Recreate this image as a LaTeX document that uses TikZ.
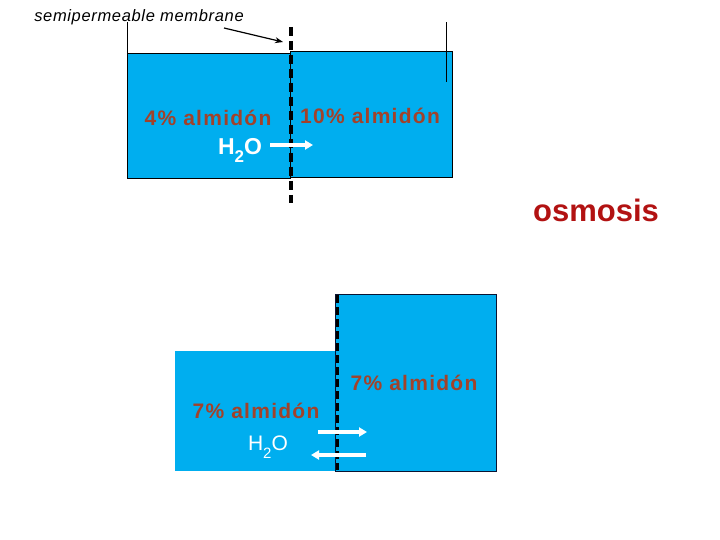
\documentclass[tikz,border=0pt]{standalone}
\usepackage{fontspec}
\setmainfont{Liberation Sans}
\usepackage{tikz}
\usetikzlibrary{positioning,arrows.meta}

\definecolor{water}{RGB}{0,174,239}
\definecolor{starch}{RGB}{162,66,42}
\definecolor{osmored}{RGB}{178,18,18}
\definecolor{tankline}{RGB}{10,20,50}

\newcommand{\waterlabel}[1]{H\raisebox{-0.35em}{\fontsize{#1}{#1}\selectfont 2}O}

\begin{document}
\begin{tikzpicture}[x=1pt,y=-1pt,
  tank/.style={fill=water, inner sep=0pt, anchor=north west},
  starchtext/.style={text=starch, font=\bfseries\fontsize{21}{24}\selectfont\addfontfeature{LetterSpace=6}},
  membrane/.style={line width=4pt, dash pattern=on 9pt off 5pt},
  flow/.style={white, line width=3.5pt, -{Triangle[length=8pt,width=9pt]}}
]
\useasboundingbox (0,0) rectangle (720,540);

% before
\node[tank, draw=black, line width=1pt, minimum width=163pt, minimum height=125pt] (lefttop) at (127,53) {};
\node[tank, draw=black, line width=1pt, minimum width=162pt, minimum height=126pt] (righttop) at (290,51) {};
\draw[line width=1pt] (lefttop.north west) -- ++(0,-31);
\draw[line width=1pt] (righttop.north east) ++(-7,31) -- ++(0,-60);
\draw[membrane] (291,27) -- (291,203);

\node[font=\itshape\fontsize{16.5}{19}\selectfont\addfontfeature{LetterSpace=4}] (memlabel) at (139,17) {semipermeable membrane};
\coordinate (memtip) at (283,42);
\draw[-{Stealth[length=8pt,width=6pt]}, line width=1.2pt] (224,28) -- (memtip);

\node[starchtext] (conc4) at (208,118) {4\% almidón};
\node[starchtext] (conc10) at (370,116) {10\% almidón};
\node[text=white, font=\bfseries\fontsize{23}{26}\selectfont] (waterone) at (240,150) {\waterlabel{17}};
\coordinate (flowonestart) at (270,145);
\coordinate (flowoneend) at (313,145);
\draw[flow] (flowonestart) -- (flowoneend);

\node[text=osmored, font=\bfseries\fontsize{31}{34}\selectfont] (osmo) at (596,210) {osmosis};

% after
\node[tank, minimum width=160pt, minimum height=120pt] (leftbot) at (175,351) {};
\node[tank, draw=tankline, line width=1.2pt, minimum width=161pt, minimum height=177pt] (rightbot) at (335,294) {};
\draw[membrane, line width=3pt, dash pattern=on 8pt off 4pt] (337,295) -- (337,470);

\node[starchtext] (conc7a) at (256,411) {7\% almidón};
\node[starchtext] (conc7b) at (414,383) {7\% almidón};
\node[text=white, font=\fontsize{21}{24}\selectfont\addfontfeature{LetterSpace=4}] (watertwo) at (268,447) {\waterlabel{15}};
\coordinate (flowtwoa) at (318,432);
\coordinate (flowtwob) at (367,432);
\coordinate (flowthreea) at (366,455);
\coordinate (flowthreeb) at (311,455);
\draw[flow] (flowtwoa) -- (flowtwob);
\draw[flow] (flowthreea) -- (flowthreeb);
\end{tikzpicture}
\end{document}
